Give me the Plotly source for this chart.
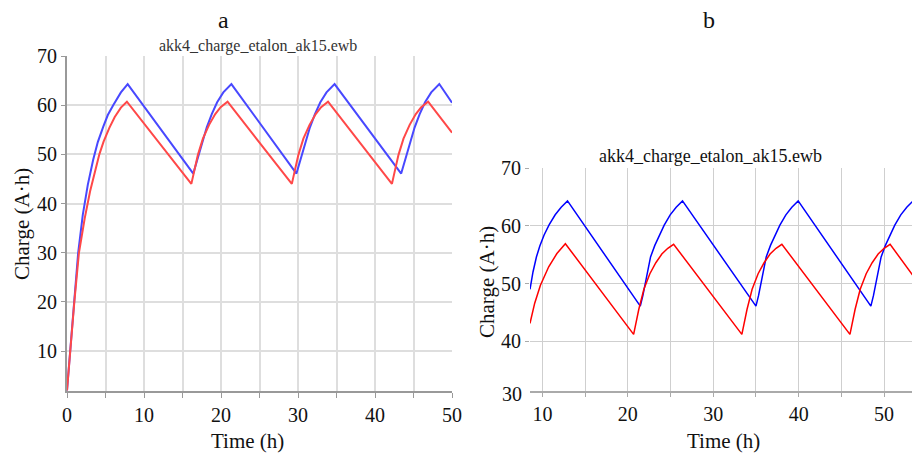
import plotly.graph_objects as go

# ---------------- data ----------------
TITLE = "akk4_charge_etalon_ak15.ewb"

# panel a
A_BLUE_X = [0, 0.2, 0.4, 0.9, 1.45, 2.05, 2.7, 3.4, 4.0, 4.7, 5.3, 6.0, 7.0, 7.88,
            16.4, 16.75, 17.15, 17.6, 18.15, 18.8, 19.5, 20.3, 21.35,
            29.8, 30.15, 30.55, 31.0, 31.55, 32.2, 32.9, 33.7, 34.75,
            43.4, 43.75, 44.15, 44.6, 45.15, 45.8, 46.5, 47.3, 48.35,
            50.0]
A_BLUE_Y = [2, 6, 10, 20, 30, 37.7, 43.8, 48.9, 52.5, 55.6, 58.0, 60.0, 62.6, 64.3,
            46.1, 48.0, 50.2, 52.6, 55.5, 58.2, 60.6, 62.6, 64.3,
            46.1, 48.0, 50.2, 52.6, 55.5, 58.2, 60.6, 62.6, 64.3,
            46.1, 48.0, 50.2, 52.6, 55.5, 58.2, 60.6, 62.6, 64.3,
            60.5]
A_RED_X = [0, 0.2, 0.42, 0.95, 1.55, 2.3, 3.0, 3.65, 4.2, 4.75, 5.5, 6.2, 7.0, 7.78,
           16.15, 16.55, 17.0, 17.65, 18.45, 19.25, 19.95, 20.85,
           29.2, 29.6, 30.05, 30.7, 31.5, 32.3, 33.0, 33.9,
           42.2, 42.6, 43.05, 43.7, 44.5, 45.3, 46.0, 46.9,
           50.0]
A_RED_Y = [2, 6, 10, 20, 30, 37.0, 42.5, 46.8, 50.0, 52.6, 55.4, 57.6, 59.5, 60.7,
           44.0, 46.8, 49.9, 53.2, 56.0, 58.2, 59.6, 60.7,
           44.0, 46.8, 49.9, 53.2, 56.0, 58.2, 59.6, 60.7,
           44.0, 46.8, 49.9, 53.2, 56.0, 58.2, 59.6, 60.7,
           54.4]

# panel b
B_BLUE_X = [8.55, 8.9, 9.3, 9.7, 10.2, 10.8, 11.5, 12.2, 12.94,
            21.46, 21.76, 22.06, 22.66, 23.16, 23.66, 24.26, 24.96, 25.66, 26.4,
            35.0, 35.3, 35.6, 36.2, 36.7, 37.2, 37.8, 38.5, 39.2, 39.94,
            48.45, 48.75, 49.05, 49.65, 50.15, 50.65, 51.25, 51.95, 52.65, 53.39,
            54.2]
B_BLUE_Y = [49.0, 52.0, 54.6, 56.5, 58.4, 60.2, 61.9, 63.2, 64.3,
            46.1, 47.9, 50.0, 54.6, 56.6, 58.3, 60.1, 61.9, 63.2, 64.3,
            46.1, 47.9, 50.0, 54.6, 56.6, 58.3, 60.1, 61.9, 63.2, 64.3,
            46.1, 47.9, 50.0, 54.6, 56.6, 58.3, 60.1, 61.9, 63.2, 64.3,
            62.6]
B_RED_X = [8.55, 9.1, 9.77, 10.74, 11.7, 12.69,
           20.68, 20.98, 21.28, 21.88, 22.58, 23.28, 23.98, 24.68, 25.36,
           33.35, 33.65, 33.95, 34.55, 35.25, 35.95, 36.65, 37.35, 38.03,
           46.0, 46.3, 46.6, 47.2, 47.9, 48.6, 49.3, 50.0, 50.7,
           54.2]
B_RED_Y = [43.1, 46.6, 49.7, 52.9, 55.2, 56.9,
           41.2, 43.3, 45.5, 49.0, 51.7, 53.6, 55.1, 56.1, 56.8,
           41.2, 43.3, 45.5, 49.0, 51.7, 53.6, 55.1, 56.1, 56.8,
           41.2, 43.3, 45.5, 49.0, 51.7, 53.6, 55.1, 56.1, 56.8,
           49.7]

A_YTICKS = [10, 20, 30, 40, 50, 60, 70]
A_XTICKS = [0, 10, 20, 30, 40, 50]
B_YTICKS = [40, 50, 60, 70]
B_XTICKS = [10, 20, 30, 40, 50]

# ---------------- figure ----------------
OFF = 8                      # page body margin of the default html page
W, H = 920 - OFF, 454 - OFF
FONT = "Liberation Serif"

def px_x(p):
    return (p - OFF) / W

def px_y(p):
    return 1 - (p - OFF) / H

fig = go.Figure()
fig.add_trace(go.Scatter(x=A_BLUE_X, y=A_BLUE_Y, mode="lines",
                         line=dict(color="#4848ff", width=2), xaxis="x", yaxis="y"))
fig.add_trace(go.Scatter(x=A_RED_X, y=A_RED_Y, mode="lines",
                         line=dict(color="#ff4848", width=2), xaxis="x", yaxis="y"))
fig.add_trace(go.Scatter(x=B_BLUE_X, y=B_BLUE_Y, mode="lines",
                         line=dict(color="#0000ff", width=1.5), xaxis="x2", yaxis="y2"))
fig.add_trace(go.Scatter(x=B_RED_X, y=B_RED_Y, mode="lines",
                         line=dict(color="#ff0000", width=1.5), xaxis="x2", yaxis="y2"))

tickfont = dict(family=FONT, size=20, color="#111")

fig.update_layout(
    width=W, height=H, showlegend=False, autosize=False,
    margin=dict(l=0, r=0, t=0, b=0, pad=0),
    paper_bgcolor="white", plot_bgcolor="white",
    font=dict(family=FONT, color="#111"),
    xaxis=dict(domain=[px_x(67), px_x(452)], range=[0, 50], anchor="y", automargin=False,
               tickvals=A_XTICKS, ticks="outside", ticklen=5, tickcolor="#999",
               showline=True, linecolor="#999", linewidth=2,
               showgrid=True, gridcolor="#dedede", gridwidth=1.5, zeroline=False,
               minor=dict(dtick=5, tick0=0, showgrid=True, gridcolor="#dedede", gridwidth=1.5,
                          ticks="outside", ticklen=5, tickcolor="#999"),
               tickfont=tickfont),
    yaxis=dict(domain=[px_y(391), px_y(56)], range=[1.9, 70], anchor="x", automargin=False,
               tickvals=A_YTICKS, ticks="outside", ticklen=4, tickcolor="#999",
               showline=True, linecolor="#999", linewidth=2,
               showgrid=True, gridcolor="#dedede", gridwidth=1.5, zeroline=False,
               tickfont=tickfont),
    xaxis2=dict(domain=[px_x(530), 1.0], range=[8.55, 54.2], anchor="y2", automargin=False,
                tickvals=B_XTICKS, ticks="outside", ticklen=4, tickcolor="#aaa",
                showline=True, linecolor="#aaa", linewidth=2,
                showgrid=True, gridcolor="#cfcfcf", gridwidth=1.3, zeroline=False,
                minor=dict(dtick=5, tick0=0, showgrid=True, gridcolor="#cfcfcf", gridwidth=1.3,
                           ticks="outside", ticklen=4, tickcolor="#aaa"),
                tickfont=tickfont),
    yaxis2=dict(domain=[px_y(391), px_y(168)], range=[31.4, 70], anchor="x2", automargin=False,
                tickvals=B_YTICKS, ticks="outside", ticklen=4, tickcolor="#aaa",
                showline=False,
                showgrid=True, gridcolor="#cfcfcf", gridwidth=1.3, zeroline=False,
                tickfont=tickfont),
)

ann = [
    dict(text="a", x=px_x(223), y=px_y(20), size=24, color="#111"),
    dict(text="b", x=px_x(708.5), y=px_y(20), size=24, color="#111"),
    dict(text=TITLE, x=px_x(257.5), y=px_y(46), size=16, color="#333"),
    dict(text=TITLE, x=px_x(710), y=px_y(156), size=18, color="#111"),
    dict(text="Charge (A·h)", x=px_x(22), y=px_y(224), textangle=-90, size=21, color="#111"),
    dict(text="Charge (A·h)", x=px_x(487), y=px_y(282), textangle=-90, size=21, color="#111"),
    dict(text="Time (h)", x=px_x(247), y=px_y(441), size=21, color="#111"),
    dict(text="Time (h)", x=px_x(723), y=px_y(441), size=21, color="#111"),
    dict(text="30", x=px_x(512), y=px_y(394), size=20, color="#111"),
]
for a in ann:
    size = a.pop("size")
    color = a.pop("color")
    fig.add_annotation(xref="paper", yref="paper", showarrow=False,
                       xanchor="center", yanchor="middle",
                       font=dict(family=FONT, size=size, color=color), **a)

fig.write_html("out.html", config={"responsive": False})
